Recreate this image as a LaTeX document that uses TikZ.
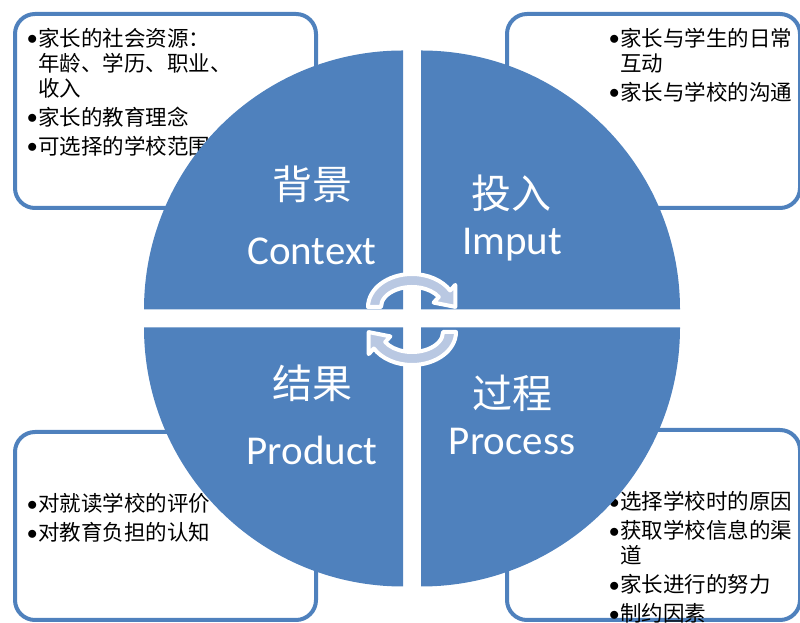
\documentclass[tikz,border=0pt]{standalone}
\usepackage{fontspec}
\setmainfont{Noto Sans CJK SC}
\newfontfamily\labelfont{Carlito}
\definecolor{quadblue}{HTML}{4F81BD}
\definecolor{arrowfill}{HTML}{B9C8E2}
\newcommand\dotitem{\makebox[11pt][l]{\raisebox{1.5pt}{$\bullet$}}}
\newcommand\hangline{\hspace*{11pt}}

\begin{document}
\begin{tikzpicture}[x=1pt,y=1pt,
   infobox/.style={draw=quadblue,line width=4pt,rounded corners=20pt,inner sep=0pt},
   infotext/.style={anchor=north west,inner sep=0pt,align=left,font=\fontsize{21.5}{25}\selectfont},
   quadrant/.style={fill=quadblue},
   cjklabel/.style={text=white,inner sep=0pt,font=\fontsize{40}{40}\selectfont},
   enlabel/.style={text=white,inner sep=0pt,anchor=base,font=\labelfont\fontsize{41}{41}\selectfont},
   cyclearrow/.style={fill=arrowfill,draw=white,line width=4pt,line join=round}]
\useasboundingbox (0,0) rectangle (800,623);
% corner boxes
\node[infobox,minimum width=301pt,minimum height=194pt] (ctxbox) at (165.5,512) {};
\node[infobox,minimum width=293pt,minimum height=194pt] (inpbox) at (653.5,512) {};
\node[infobox,minimum width=301pt,minimum height=188pt] (prdbox) at (165.5,97) {};
\node[infobox,minimum width=293pt,minimum height=190pt] (prcbox) at (653.5,98) {};
\node[infotext] (ctxtext) at (27,595) {\dotitem 家长的社会资源：\\
   \hangline 年龄、学历、职业、\\
   \hangline 收入\\[4pt]
   \dotitem 家长的教育理念\\[4pt]
   \dotitem 可选择的学校范围};
\node[infotext] (inptext) at (609,595) {\dotitem 家长与学生的日常\\
   \hangline 互动\\[4pt]
   \dotitem 家长与学校的沟通};
\node[infotext] (prdtext) at (27,129.5) {\dotitem 对就读学校的评价\\[4pt]
   \dotitem 对教育负担的认知};
\node[infotext] (prctext) at (609,131.5) {\dotitem 选择学校时的原因\\[4pt]
   \dotitem 获取学校信息的渠\\
   \hangline 道\\[4pt]
   \dotitem 家长进行的努力\\[4pt]
   \dotitem 制约因素};
% the four quarters
\foreach \cx/\cy/\a in {403/313.5/90,421/313.5/0,403/295.5/180,421/295.5/270}
  \fill[quadrant] (\cx,\cy) -- +(\a:259) arc[start angle=\a,end angle=\a+90,radius=259pt] -- cycle;
\node[cjklabel] (ctxcn) at (312,439) {背景};
\node[enlabel] (ctxen) at (312,358) {Context};
\node[cjklabel] (inpcn) at (511,430) {投入};
\node[enlabel] (inpen) at (512,368) {Imput};
\node[cjklabel] (prdcn) at (312,240) {结果};
\node[enlabel] (prden) at (312,158) {Product};
\node[cjklabel] (prccn) at (512,230) {过程};
\node[enlabel] (prcen) at (512,168) {Process};
% cycle arrows
\foreach \r/\c in {0/316,180/291}
  \draw[cyclearrow,shift={(412,\c)},rotate=\r] (-44,0)
     arc[start angle=180,end angle=30,x radius=44pt,y radius=33pt]
     -- (43.3,22.1) -- (43.3,0.1) -- (21.6,4.4) -- (26.8,10)
     arc[start angle=30,end angle=180,x radius=31pt,y radius=20pt] -- cycle;
\end{tikzpicture}
\end{document}
